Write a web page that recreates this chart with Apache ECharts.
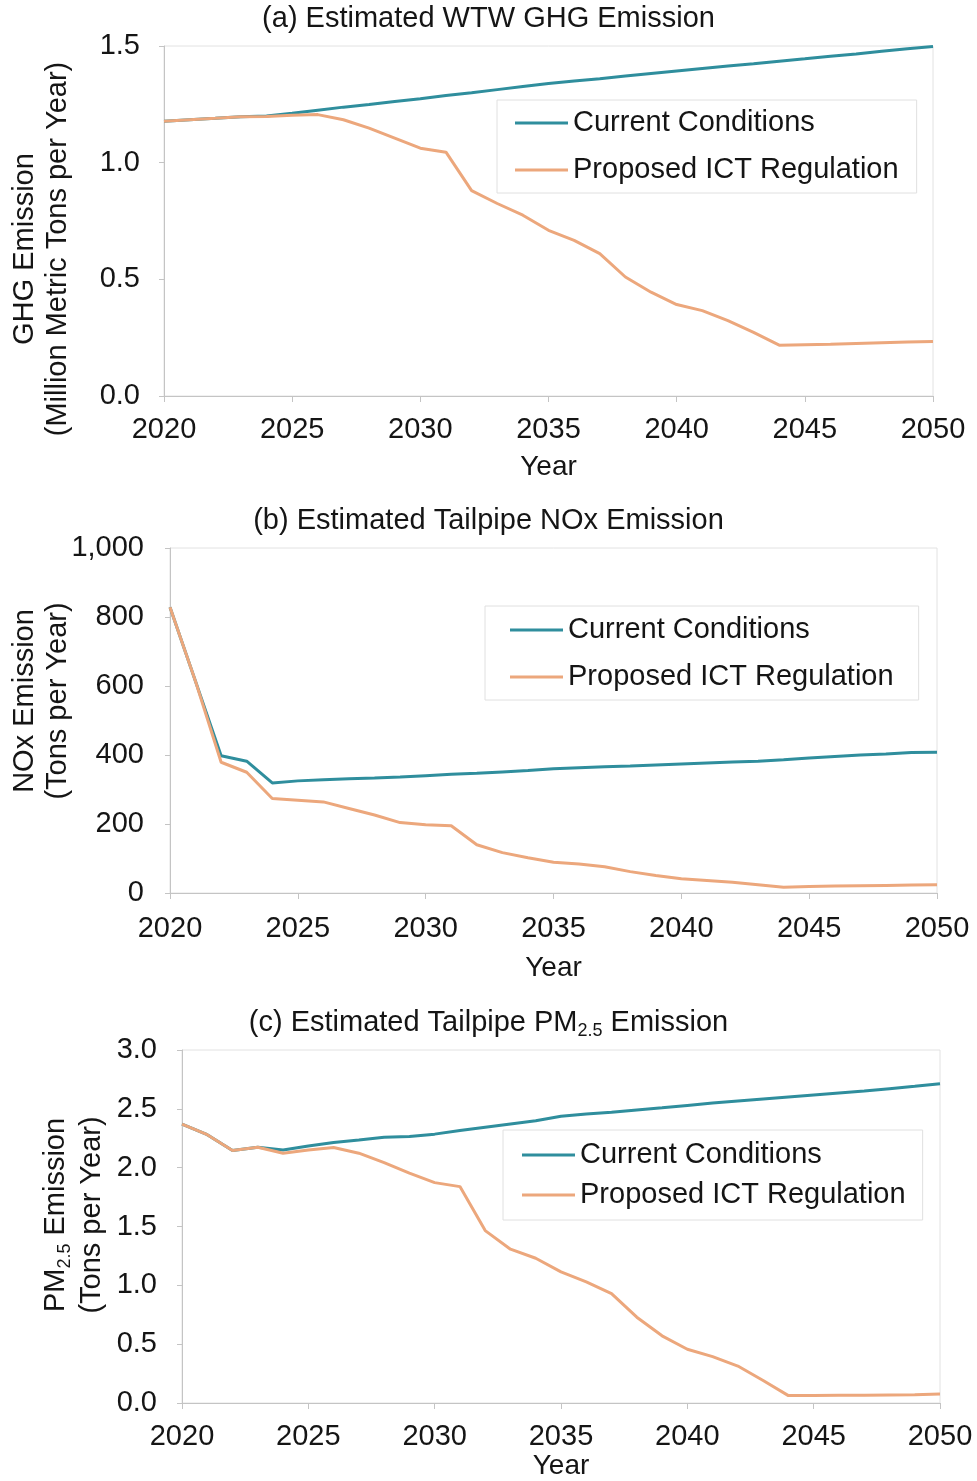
<!DOCTYPE html>
<html>
<head>
<meta charset="utf-8">
<script src="https://cdn.jsdelivr.net/npm/echarts@6/dist/echarts.min.js"></script>
<style>
  html, body { margin: 0; padding: 0; background: #fff; }
  #chart { width: 977px; height: 1481px; }
</style>
</head>
<body>
<div id="chart"></div>
<script>
// Model years on the horizontal axis
const years = [2020, 2021, 2022, 2023, 2024, 2025, 2026, 2027, 2028, 2029,
               2030, 2031, 2032, 2033, 2034, 2035, 2036, 2037, 2038, 2039,
               2040, 2041, 2042, 2043, 2044, 2045, 2046, 2047, 2048, 2049, 2050];

// (a) Well-to-wheel GHG, million metric tons per year
const ghgCurrent = [1.177, 1.184, 1.190, 1.197, 1.200, 1.212, 1.225, 1.238, 1.249, 1.262,
                    1.274, 1.288, 1.300, 1.313, 1.326, 1.339, 1.350, 1.360, 1.371, 1.382,
                    1.393, 1.404, 1.414, 1.424, 1.435, 1.445, 1.456, 1.466, 1.477, 1.488, 1.498];
const ghgProposed = [1.177, 1.184, 1.190, 1.197, 1.198, 1.203, 1.206, 1.184, 1.148, 1.105,
                     1.062, 1.045, 0.880, 0.825, 0.775, 0.710, 0.667, 0.610, 0.510, 0.445,
                     0.392, 0.366, 0.323, 0.273, 0.218, 0.220, 0.222, 0.225, 0.228, 0.231, 0.234];

// (b) Tailpipe NOx, tons per year
const noxCurrent = [828, 613, 398, 382, 319, 325, 328, 331, 333, 336,
                    340, 344, 347, 351, 355, 360, 363, 366, 368, 371,
                    374, 377, 380, 382, 386, 391, 396, 400, 403, 407, 408];
const noxProposed = [828, 613, 379, 350, 274, 269, 264, 245, 226, 204,
                     198, 195, 140, 117, 102, 89, 84, 76, 62, 51,
                     41, 36, 31, 24, 17, 19, 20, 21, 22, 23, 24];

// (c) Tailpipe PM2.5, tons per year
const pmCurrent = [2.370, 2.280, 2.145, 2.174, 2.151, 2.185, 2.214, 2.236, 2.259, 2.265,
                   2.285, 2.316, 2.344, 2.372, 2.398, 2.437, 2.457, 2.471, 2.491, 2.509,
                   2.529, 2.549, 2.566, 2.583, 2.600, 2.617, 2.634, 2.651, 2.671, 2.691, 2.714];
const pmProposed = [2.370, 2.280, 2.145, 2.174, 2.123, 2.151, 2.171, 2.123, 2.043, 1.953,
                    1.873, 1.839, 1.465, 1.307, 1.230, 1.114, 1.029, 0.929, 0.729, 0.571,
                    0.457, 0.394, 0.314, 0.191, 0.063, 0.063, 0.066, 0.066, 0.069, 0.071, 0.077];

// Tick labels for each vertical axis
const ghgTicks = ['0.0', '0.5', '1.0', '1.5'];
const noxTicks = ['0', '200', '400', '600', '800', '1,000'];
const pmTicks = ['0.0', '0.5', '1.0', '1.5', '2.0', '2.5', '3.0'];

const seriesNames = ['Current Conditions', 'Proposed ICT Regulation'];

const FONT = "'Liberation Sans', Arial, sans-serif";
const INK = '#151515';
const TEAL = '#2f8e9d';
const ORANGE = '#eca77c';
const AXIS_GREY = '#c4c4c4';

const pairs = (vals) => years.map((y, i) => [y, vals[i]]);

const grids = [
  { left: 164, right: 44, top: 46, height: 350 },
  { left: 170, right: 40, top: 548, height: 345 },
  { left: 182, right: 37, top: 1050, height: 353 }
].map(g => Object.assign({ show: true, borderColor: '#e2e2e2', borderWidth: 1, backgroundColor: 'transparent' }, g));

const xAxes = [0, 1, 2].map(i => ({
  gridIndex: i,
  type: 'value',
  min: 2020, max: 2050, interval: 5,
  name: 'Year',
  nameLocation: 'middle',
  nameGap: [57, 61, 47][i],
  nameTextStyle: { fontSize: 28, color: INK, fontFamily: FONT },
  axisLine: { show: true, lineStyle: { color: AXIS_GREY, width: 1 } },
  axisTick: { show: true, length: 6, lineStyle: { color: AXIS_GREY } },
  splitLine: { show: false },
  axisLabel: { fontSize: 29, color: INK, fontFamily: FONT, margin: [19, 21, 19][i],
               formatter: v => String(v) }
}));

function yAxis(i, max, interval, ticks, margin) {
  return {
    gridIndex: i,
    type: 'value',
    min: 0, max: max, interval: interval,
    axisLine: { show: true, lineStyle: { color: AXIS_GREY, width: 1 } },
    axisTick: { show: true, length: 5, lineStyle: { color: AXIS_GREY } },
    splitLine: { show: false },
    axisLabel: { fontSize: 29, color: INK, fontFamily: FONT, margin: margin,
                 formatter: v => ticks[Math.round(v / interval)] }
  };
}

const yAxes = [
  yAxis(0, 1.5, 0.5, ghgTicks, 24),
  yAxis(1, 1000, 200, noxTicks, 26),
  yAxis(2, 3.0, 0.5, pmTicks, 25)
];

function lineSeries(name, idx, vals, color) {
  return {
    name: name, type: 'line', xAxisIndex: idx, yAxisIndex: idx,
    data: pairs(vals), symbol: 'none', showSymbol: false,
    lineStyle: { color: color, width: 3 }, itemStyle: { color: color },
    z: name === seriesNames[1] ? 3 : 2
  };
}

const series = [
  lineSeries(seriesNames[0], 0, ghgCurrent, TEAL),
  lineSeries(seriesNames[1], 0, ghgProposed, ORANGE),
  lineSeries(seriesNames[0], 1, noxCurrent, TEAL),
  lineSeries(seriesNames[1], 1, noxProposed, ORANGE),
  lineSeries(seriesNames[0], 2, pmCurrent, TEAL),
  lineSeries(seriesNames[1], 2, pmProposed, ORANGE)
];

function legendBox(left, top, gap, padding) {
  return {
    data: seriesNames, orient: 'vertical', left: left, top: top,
    icon: 'rect', itemWidth: 53, itemHeight: 3, itemGap: gap,
    padding: padding, selectedMode: false,
    borderColor: '#e0e0e0', borderWidth: 1, backgroundColor: '#fff',
    textStyle: { fontSize: 29, color: INK, fontFamily: FONT, lineHeight: 30 }
  };
}

const legends = [
  legendBox(497, 100, 17, [8, 18, 8, 18]),
  legendBox(485, 606, 17, [9, 25, 8, 25]),
  legendBox(503, 1130, 10, [10, 17, 10, 19])
];

const titleStyle = { fontSize: 29, fontWeight: 'normal', color: INK, fontFamily: FONT };
const titles = [
  { text: '(a) Estimated WTW GHG Emission', left: 'center', top: 4, padding: 0, textStyle: titleStyle },
  { text: '(b) Estimated Tailpipe NOx Emission', left: 'center', top: 506, padding: 0, textStyle: titleStyle },
  { text: '{m|(c) Estimated Tailpipe PM}{s|2.5}{m| Emission}', left: 'center', top: 1006, padding: 0,
    textStyle: Object.assign({}, titleStyle, {
      rich: {
        m: { fontSize: 29, color: INK, fontFamily: FONT, lineHeight: 34 },
        s: { fontSize: 18, color: INK, fontFamily: FONT, lineHeight: 16, verticalAlign: 'bottom' }
      }
    }) }
];

// Two-line vertical axis titles
function yName(x, y, text, lineHeight, rich) {
  const style = { text: text, fontSize: 29, fontFamily: FONT, fill: INK,
                  align: 'center', verticalAlign: 'middle', lineHeight: lineHeight };
  if (rich) style.rich = rich;
  return { type: 'text', x: x, y: y, rotation: Math.PI / 2, style: style };
}

const graphics = [
  yName(41, 249, 'GHG Emission\n(Million Metric Tons per Year)', 33),
  yName(41, 701, 'NOx Emission\n(Tons per Year)', 33),
  yName(74, 1215, '{m|PM}{s|2.5}{m| Emission}\n{m|(Tons per Year)}', 36, {
    m: { fontSize: 29, fontFamily: FONT, fill: INK, lineHeight: 36 },
    s: { fontSize: 18, fontFamily: FONT, fill: INK, lineHeight: 18, verticalAlign: 'bottom' }
  })
];

const chart = echarts.init(document.getElementById('chart'), null, { renderer: 'canvas' });
chart.setOption({
  animation: false,
  backgroundColor: '#fff',
  textStyle: { fontFamily: FONT },
  title: titles,
  legend: legends,
  grid: grids,
  xAxis: xAxes,
  yAxis: yAxes,
  series: series,
  graphic: graphics
});
</script>
</body>
</html>
